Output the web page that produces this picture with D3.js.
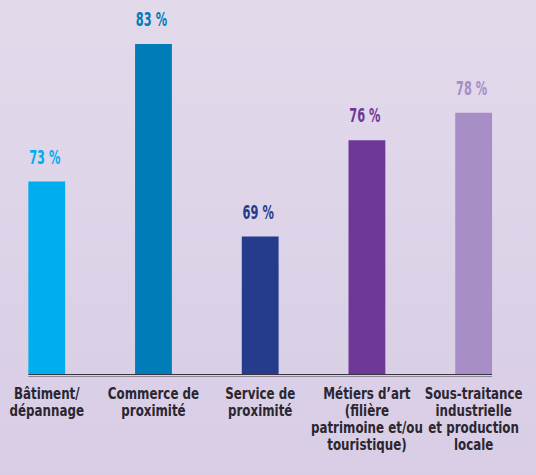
<!DOCTYPE html>
<html>
<head>
<meta charset="utf-8">
<script src="https://cdn.jsdelivr.net/npm/d3@7"></script>
<style>
  html, body { margin: 0; padding: 0; }
  body { width: 536px; height: 475px; overflow: hidden; }
  text { font-family: "DejaVu Sans", sans-serif; font-weight: bold; }
</style>
</head>
<body>
<div id="chart"></div>
<script>
const categories = [
    ["Bâtiment/", "dépannage"],
    ["Commerce de", "proximité"],
    ["Service de", "proximité"],
    ["Métiers d’art", "(filière", "patrimoine et/ou", "touristique)"],
    ["Sous-traitance", "industrielle", "et production", "locale"]
];
const values = [73, 83, 69, 76, 78];
const colors = ["#00aeef", "#007db8", "#253c8c", "#6d3896", "#a88ec6"];

const width = 536;
const height = 475;
const baseY = 374;

const svg = d3.select("#chart")
    .append("svg")
    .attr("width", width)
    .attr("height", height);

const grad = svg.append("defs")
    .append("linearGradient")
    .attr("id", "bg")
    .attr("x1", 0).attr("y1", 0).attr("x2", 0).attr("y2", 1);
grad.append("stop").attr("offset", "0%").attr("stop-color", "#e2daeb");
grad.append("stop").attr("offset", "100%").attr("stop-color", "#d8cde5");

svg.append("rect")
    .attr("width", width)
    .attr("height", height)
    .attr("fill", "url(#bg)");

const x = d3.scaleBand()
    .domain(d3.range(values.length))
    .range([-6.6, 527])
    .paddingInner(0.655)
    .paddingOuter(0.3275);

const y = d3.scaleLinear()
    .domain([59, 83])
    .range([baseY, 44]);

svg.append("g")
    .selectAll("rect")
    .data(values)
    .enter()
    .append("rect")
    .attr("x", (d, i) => x(i))
    .attr("y", d => y(d))
    .attr("width", x.bandwidth())
    .attr("height", d => baseY - y(d))
    .attr("fill", (d, i) => colors[i]);

// value labels, narrow like the original condensed face
svg.append("g")
    .selectAll("text")
    .data(values)
    .enter()
    .append("text")
    .attr("transform", (d, i) => `translate(${x(i) + x.bandwidth() / 2 - 2},${y(d) - 18}) scale(0.6,1)`)
    .attr("text-anchor", "middle")
    .style("font-size", "19px")
    .style("fill", (d, i) => colors[i])
    .text(d => d + " %");

// baseline (double rule)
const x0 = x(0);
const x1 = x(values.length - 1) + x.bandwidth();
svg.append("line")
    .attr("x1", x0).attr("x2", x1)
    .attr("y1", baseY + 0.5).attr("y2", baseY + 0.5)
    .attr("stroke", "#3a3440")
    .attr("stroke-width", 1);
svg.append("line")
    .attr("x1", x0).attr("x2", x1)
    .attr("y1", baseY + 2.5).attr("y2", baseY + 2.5)
    .attr("stroke", "#8c8594")
    .attr("stroke-width", 1.2);

const labels = svg.append("g")
    .selectAll("text")
    .data(categories)
    .enter()
    .append("text")
    .attr("text-anchor", "middle")
    .attr("transform", (d, i) => `translate(${x(i) + x.bandwidth() / 2},399) scale(0.72,1)`)
    .style("font-size", "16.5px")
    .style("fill", "#2b2630");

labels.selectAll("tspan")
    .data(d => d)
    .enter()
    .append("tspan")
    .attr("x", 0)
    .attr("y", (d, j) => j * 17)
    .text(d => d);
</script>
</body>
</html>
